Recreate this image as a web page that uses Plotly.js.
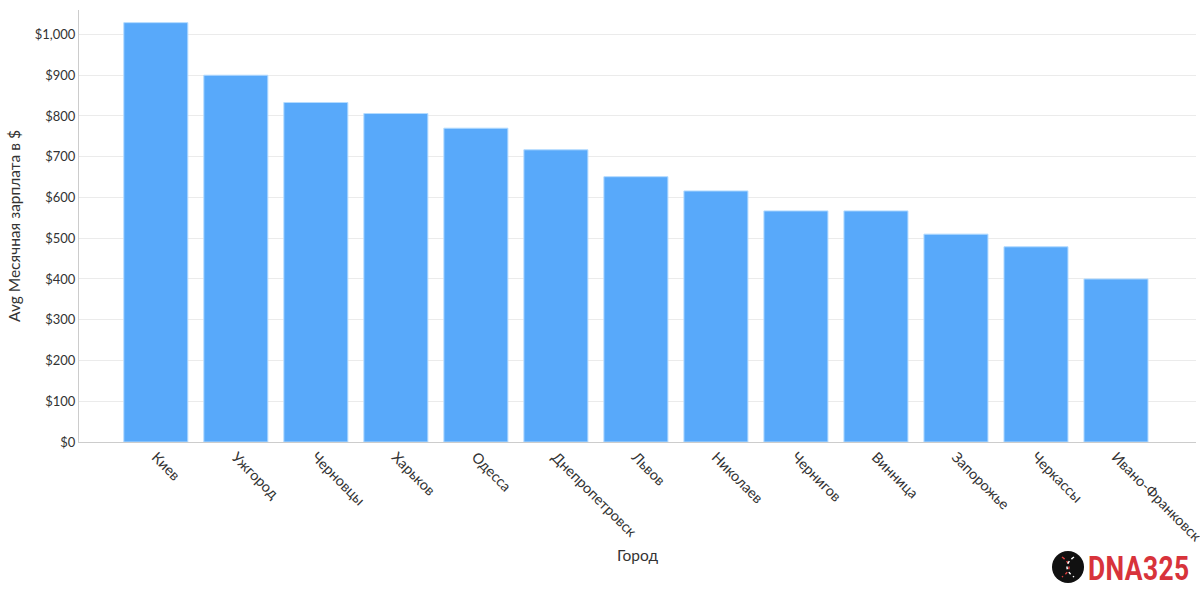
<!DOCTYPE html>
<html>
<head>
<meta charset="utf-8">
<script src="https://cdn.plot.ly/plotly-3.0.1.min.js"></script>
<style>
body{margin:0;background:#fff}
#wrap{position:relative;width:1200px;height:600px}
#chart{width:1200px;height:600px}
#logo{position:absolute;left:1088px;top:552px;font:bold 33px/33px Roboto,"DejaVu Sans",sans-serif;
      color:#d8333b;transform:scaleX(0.8);transform-origin:left center;white-space:nowrap;letter-spacing:0.5px}
</style>
</head>
<body>
<div id="wrap">
<div id="chart"></div>
<div id="logo">DNA325</div>
</div>
<script>
// Average monthly salary by city
var cities = ['Киев', 'Ужгород', 'Черновцы', 'Харьков', 'Одесса', 'Днепропетровск', 'Львов',
              'Николаев', 'Чернигов', 'Винница', 'Запорожье', 'Черкассы', 'Ивано-Франковск'];
var salary = [1029, 900, 833, 806, 770, 717, 651, 616, 567, 567, 510, 479, 400];

var trace = {
  x: cities,
  y: salary,
  type: 'bar',
  marker: { color: '#58a9fa', line: { color: '#b3dbff', width: 1 } },
  hoverinfo: 'x+y'
};

// logo circle position (paper coords, below the plot)
var logoX = (1068 - 79) / 1117;
var logoY = -(567 - 442) / 432;

var layout = {
  width: 1200, height: 600,
  margin: { l: 79, r: 4, t: 10, b: 158 },
  font: { family: 'Lato, "Open Sans", sans-serif', color: '#333', size: 13 },
  bargap: 0.2,
  showlegend: false,
  plot_bgcolor: '#fff', paper_bgcolor: '#fff',
  xaxis: {
    range: [-0.96, 13.0],
    tickangle: 45,
    ticks: '',
    showline: true, linecolor: '#ccc', linewidth: 1,
    tickfont: { size: 14.5, color: '#333' },
    title: { text: 'Город', font: { size: 15.5, color: '#333' }, standoff: 6 }
  },
  yaxis: {
    range: [0, 1060],
    dtick: 100,
    tickprefix: '$',
    tickformat: ',d',
    ticks: '',
    showline: true, linecolor: '#ccc', linewidth: 1,
    gridcolor: '#ebebeb',
    zeroline: false,
    tickfont: { size: 13, color: '#333' },
    title: { text: 'Avg Месячная зарплата в $', font: { size: 15.5, color: '#333' }, standoff: 10 }
  },
  shapes: [
    { type: 'circle', xref: 'paper', yref: 'paper', xsizemode: 'pixel', ysizemode: 'pixel',
      xanchor: logoX, yanchor: logoY, x0: -16, x1: 16, y0: -16, y1: 16,
      fillcolor: '#111', line: { width: 0 } },
    { type: 'path', xref: 'paper', yref: 'paper', xsizemode: 'pixel', ysizemode: 'pixel',
      xanchor: logoX, yanchor: logoY,
      path: 'M -6 10 Q 8 0 -6 -10', line: { color: '#e04040', width: 1.5, dash: 'dot' } },
    { type: 'path', xref: 'paper', yref: 'paper', xsizemode: 'pixel', ysizemode: 'pixel',
      xanchor: logoX, yanchor: logoY,
      path: 'M 6 10 Q -8 0 6 -10', line: { color: '#ffffff', width: 1.5, dash: 'dot' } }
  ]
};

Plotly.newPlot('chart', [trace], layout, { displayModeBar: false });
</script>
</body>
</html>
